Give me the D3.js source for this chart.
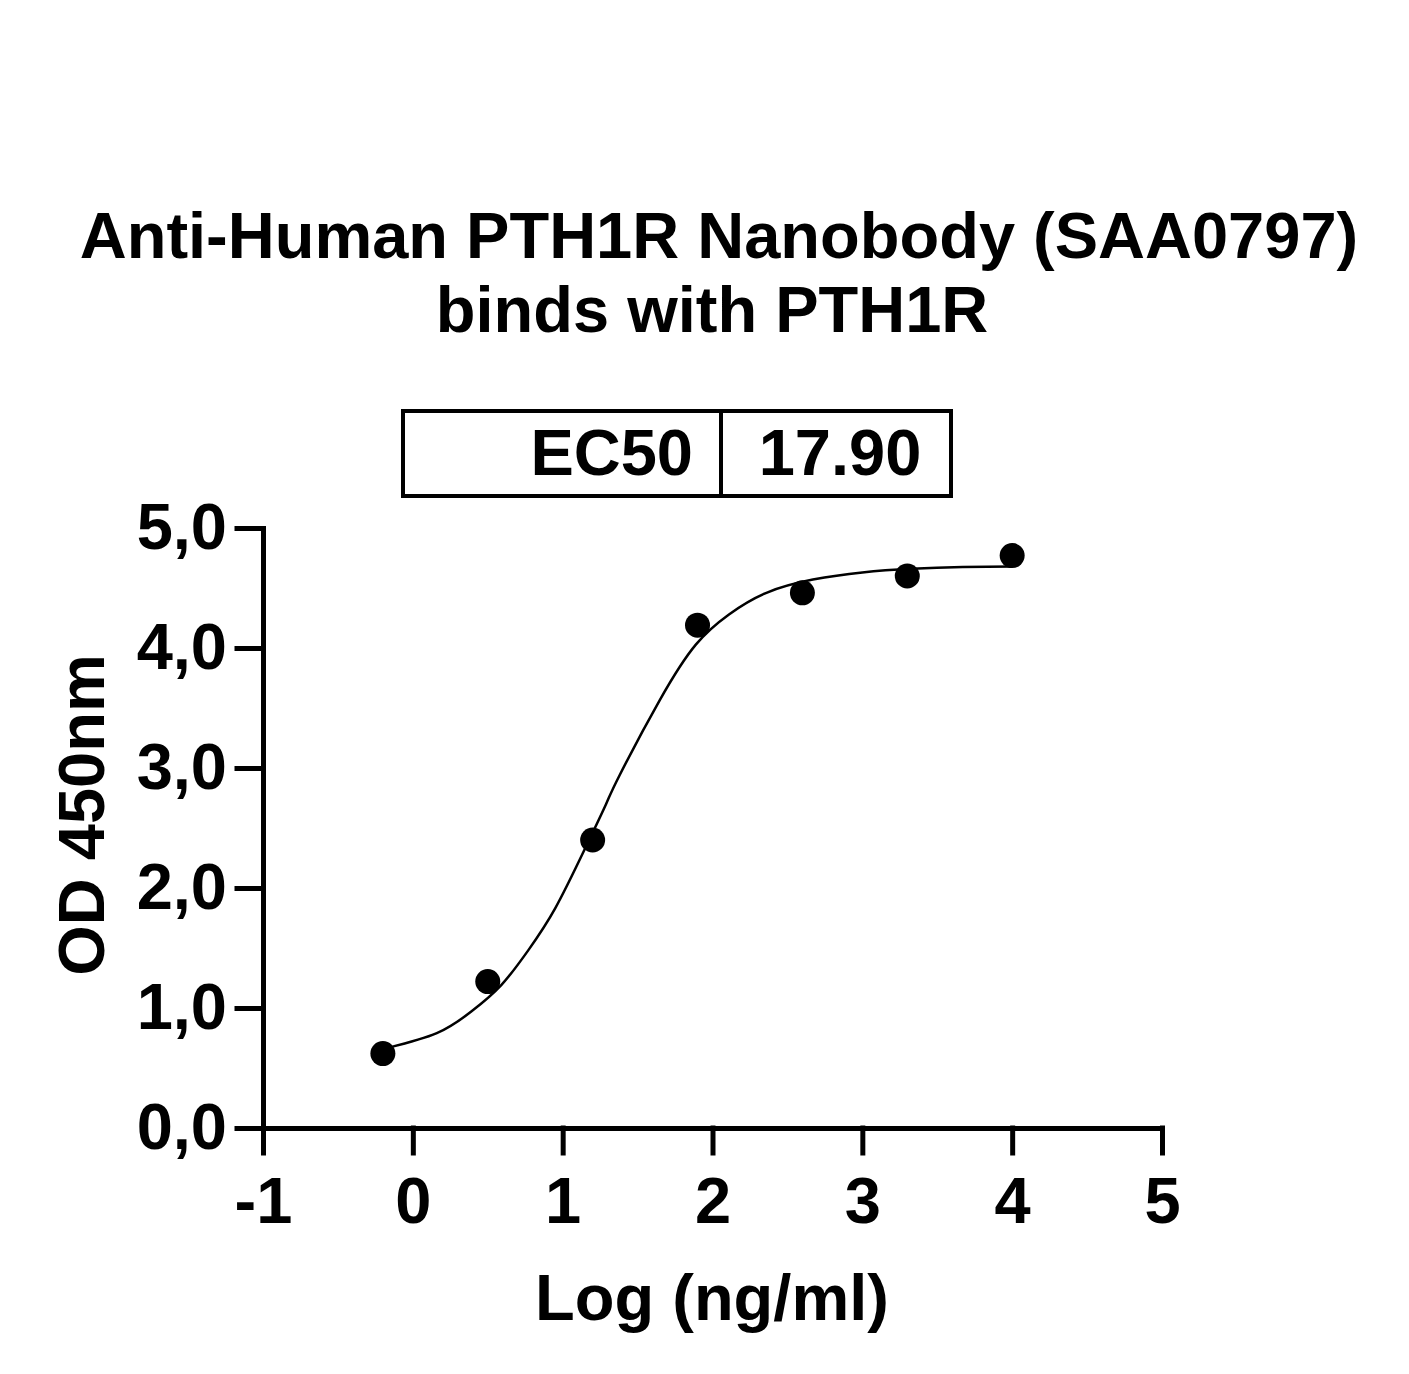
<!DOCTYPE html>
<html>
<head>
<meta charset="utf-8">
<script src="https://cdn.jsdelivr.net/npm/d3@7"></script>
<style>
  body { margin: 0; background: #fff; }
  text { font-family: "Liberation Sans", Arial, sans-serif; font-weight: bold; fill: #000; }
</style>
</head>
<body>
<svg id="chart" width="1409" height="1374"></svg>
<script>
// measured points (log ng/ml vs OD 450nm)
const logConc = [-0.2, 0.5, 1.2, 1.9, 2.6, 3.3, 4.0];
const od450 = [0.62, 1.22, 2.40, 4.19, 4.46, 4.60, 4.77];

// fitted curve
const fitX = [-0.16, 0.16, 0.39, 0.59, 0.77, 0.95, 1.15, 1.29, 1.38, 1.65, 1.89, 2.11, 2.36, 2.67, 3.0, 3.33, 3.67, 4.0];
const fitY = [0.67, 0.79, 0.97, 1.19, 1.48, 1.83, 2.33, 2.70, 2.94, 3.57, 4.03, 4.28, 4.46, 4.57, 4.63, 4.66, 4.675, 4.68];

const xTicks = [-1, 0, 1, 2, 3, 4, 5];
const yTicks = [0, 1, 2, 3, 4, 5];
const ec50Label = 'EC50';
const ec50Value = '17.90';
const titleLines = ['Anti-Human PTH1R Nanobody (SAA0797)', 'binds with PTH1R'];

const svg = d3.select('#chart');

const x = d3.scaleLinear().domain([-1, 5]).range([263, 1162]);
const y = d3.scaleLinear().domain([0, 5]).range([1128, 528]);

// title
svg.append('g')
  .selectAll('text')
  .data(titleLines)
  .join('text')
  .attr('x', (d, i) => (i === 0 ? 719 : 712))
  .attr('y', (d, i) => 258 + i * 74)
  .attr('text-anchor', 'middle')
  .attr('font-size', 65)
  .text((d) => d);

// EC50 table
const box = svg.append('g');
box.append('rect')
  .attr('x', 403).attr('y', 411)
  .attr('width', 548).attr('height', 85)
  .attr('fill', 'none').attr('stroke', '#000').attr('stroke-width', 4);
box.append('line')
  .attr('x1', 721).attr('x2', 721).attr('y1', 411).attr('y2', 496)
  .attr('stroke', '#000').attr('stroke-width', 4);
box.append('text')
  .attr('x', 693).attr('y', 475)
  .attr('text-anchor', 'end').attr('font-size', 65)
  .text(ec50Label);
box.append('text')
  .attr('x', 840).attr('y', 475)
  .attr('text-anchor', 'middle').attr('font-size', 65)
  .text(ec50Value);

// axes
const xAxis = d3.axisBottom(x)
  .tickValues(xTicks)
  .tickFormat((d) => String(d))
  .tickSize(25)
  .tickSizeOuter(0)
  .tickPadding(24);

const yAxis = d3.axisLeft(y)
  .tickValues(yTicks)
  .tickFormat((d) => d3.format('.1f')(d).replace('.', ','))
  .tickSize(26)
  .tickSizeOuter(0)
  .tickPadding(10);

const gx = svg.append('g')
  .attr('transform', `translate(0,${y(0)})`)
  .call(xAxis);

const gy = svg.append('g')
  .attr('transform', `translate(${x(-1)},0)`)
  .call(yAxis);

[gx, gy].forEach((g) => {
  g.selectAll('path, line')
    .attr('stroke', '#000')
    .attr('stroke-width', 5)
    .attr('stroke-linecap', 'square');
  g.selectAll('text')
    .attr('font-size', 65)
    .attr('font-family', '"Liberation Sans", Arial, sans-serif')
    .attr('font-weight', 'bold')
    .attr('fill', '#000');
});
gx.select('.domain').attr('stroke-linecap', 'butt');

// axis titles
svg.append('text')
  .attr('x', 712).attr('y', 1320)
  .attr('text-anchor', 'middle').attr('font-size', 65)
  .text('Log (ng/ml)');

svg.append('text')
  .attr('transform', 'translate(104,815) rotate(-90)')
  .attr('text-anchor', 'middle').attr('font-size', 65)
  .text('OD 450nm');

// fitted curve
const line = d3.line()
  .x((d, i) => x(fitX[i]))
  .y((d) => y(d))
  .curve(d3.curveNatural);

svg.append('path')
  .datum(fitY)
  .attr('d', line)
  .attr('fill', 'none')
  .attr('stroke', '#000')
  .attr('stroke-width', 2.5);

// points
svg.append('g')
  .selectAll('circle')
  .data(od450)
  .join('circle')
  .attr('cx', (d, i) => x(logConc[i]))
  .attr('cy', (d) => y(d))
  .attr('r', 12.5)
  .attr('fill', '#000');
</script>
</body>
</html>
